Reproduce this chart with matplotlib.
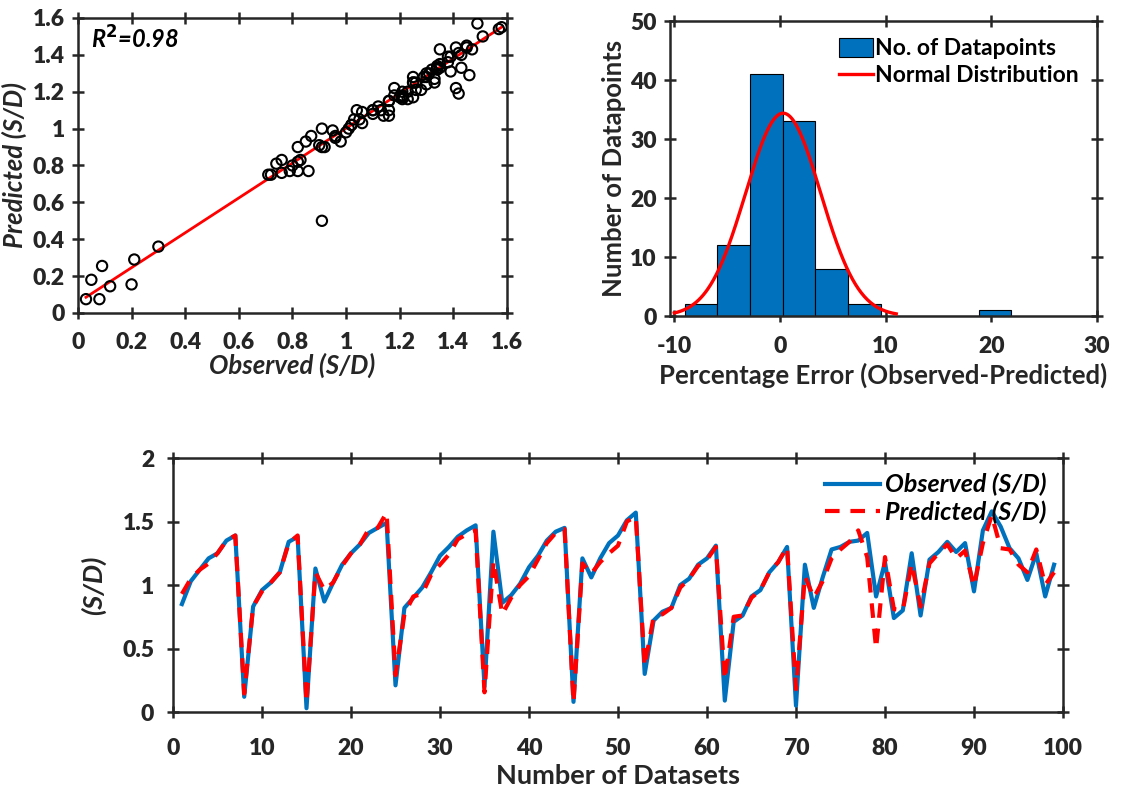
import numpy as np
import matplotlib
matplotlib.use("Agg")
from matplotlib import pyplot as plt

plt.rcParams['font.family'] = ['Lato', 'DejaVu Sans']
plt.rcParams['font.weight'] = 'bold'
plt.rcParams['axes.labelweight'] = 'bold'

# observed / predicted S/D for the 99 datasets
observed = [0.85, 1.03, 1.12, 1.21, 1.25, 1.35, 1.39, 0.12, 0.83, 0.96,
            1.02, 1.10, 1.34, 1.38, 0.03, 1.13, 0.87, 1.02, 1.16, 1.25,
            1.32, 1.41, 1.45, 1.49, 0.21, 0.82, 0.90, 0.98, 1.10, 1.23,
            1.30, 1.38, 1.43, 1.47, 0.20, 1.42, 0.86, 0.92, 1.01, 1.14,
            1.23, 1.35, 1.42, 1.45, 0.08, 1.21, 1.06, 1.21, 1.33, 1.39,
            1.51, 1.57, 0.30, 0.72, 0.79, 0.82, 1.00, 1.05, 1.16, 1.21,
            1.31, 0.09, 0.71, 0.76, 0.91, 0.96, 1.10, 1.18, 1.30, 0.05,
            1.16, 0.82, 1.06, 1.28, 1.30, 1.34, 1.35, 1.41, 0.91, 1.18,
            0.74, 0.80, 1.25, 0.76, 1.20, 1.26, 1.34, 1.26, 1.33, 0.95,
            1.43, 1.58, 1.46, 1.29, 1.21, 1.04, 1.25, 0.91, 1.16]
predicted = [0.93, 1.05, 1.12, 1.17, 1.25, 1.35, 1.39, 0.145, 0.83, 0.95,
             1.02, 1.10, 1.33, 1.39, 0.075, 1.10, 0.96, 1.02, 1.15, 1.25,
             1.32, 1.44, 1.45, 1.57, 0.29, 0.77, 0.91, 0.93, 1.08, 1.16,
             1.24, 1.36, 1.40, 1.43, 0.155, 1.19, 0.77, 0.90, 1.00, 1.07,
             1.20, 1.33, 1.41, 1.44, 0.075, 1.17, 1.09, 1.18, 1.25, 1.31,
             1.50, 1.54, 0.36, 0.75, 0.77, 0.82, 0.98, 1.05, 1.15, 1.20,
             1.30, 0.255, 0.75, 0.76, 0.90, 0.96, 1.10, 1.18, 1.30, 0.18,
             1.07, 0.90, 1.03, 1.21, 1.28, 1.34, 1.43, 1.22, 0.50, 1.22,
             0.81, 0.80, 1.17, 0.83, 1.17, 1.25, 1.32, 1.21, 1.27, 0.99,
             1.33, 1.55, 1.29, 1.28, 1.16, 1.10, 1.28, 1.00, 1.10]
datasets = np.arange(1, len(observed) + 1)

# fitted line in the scatter
fit_x = [0.03, 1.58]
fit_slope = 0.945
fit_intercept = 0.057
r2_text = "R$^\\mathbf{2}$=0.98"

# error histogram
bin_start = -9.02
bin_width = 3.09
bin_counts = [2, 12, 41, 33, 8, 2, 0, 0, 0, 1]
norm_mu = 0.3
norm_sigma = 3.55
norm_range = (-10, 11)

BLUE = "#0072BD"
SPINE = "#262626"
TICK_FS = 16.5
LABEL_FS = 18.5


def fmt(v):
    return "%g" % round(v, 2)


def style_axes(ax, xticks, yticks, xpad=10, ypad=5):
    for s in ax.spines.values():
        s.set_linewidth(1.8)
        s.set_color(SPINE)
    ax.set_xticks(xticks, [fmt(v) for v in xticks], fontweight='heavy', fontsize=TICK_FS)
    ax.set_yticks(yticks, [fmt(v) for v in yticks], fontweight='heavy', fontsize=TICK_FS)
    ax.tick_params(direction='inout', length=9, width=1.8, color=SPINE,
                   top=True, right=True, labelcolor=SPINE)
    ax.tick_params(axis='x', pad=xpad)
    ax.tick_params(axis='y', pad=ypad)


fig = plt.figure(figsize=(11.33, 7.96), dpi=100)

# --- scatter observed vs predicted
ax1 = fig.add_axes([0.0688, 0.6068, 0.3786, 0.3706])
ax1.scatter(observed, predicted, s=55, facecolors='none', edgecolors='black',
            linewidths=1.5, zorder=3)
fx = np.array(fit_x)
ax1.plot(fx, fit_slope * fx + fit_intercept, color='red', lw=2, zorder=2)
ax1.set_xlim(0, 1.6)
ax1.set_ylim(0, 1.6)
ticks = np.arange(0, 1.61, 0.2)
style_axes(ax1, ticks, ticks, xpad=9)
ax1.set_xlabel("Observed (S/D)", fontsize=LABEL_FS, style='italic', color=SPINE, labelpad=0)
ax1.set_ylabel("Predicted (S/D)", fontsize=LABEL_FS, style='italic', color=SPINE, labelpad=4)
ax1.text(0.03, 0.93, r2_text, transform=ax1.transAxes, fontsize=17,
         style='italic', weight='bold', va='center')

# --- histogram of percentage error
ax2 = fig.add_axes([0.5914, 0.603, 0.3769, 0.3706])
lefts = bin_start + bin_width * np.arange(len(bin_counts))
bars = ax2.bar(lefts, bin_counts, width=bin_width, align='edge', color=BLUE,
               edgecolor='black', linewidth=0.8, zorder=2)
xn = np.linspace(norm_range[0], norm_range[1], 300)
scale = sum(bin_counts) * bin_width / (norm_sigma * np.sqrt(2 * np.pi))
curve, = ax2.plot(xn, scale * np.exp(-0.5 * ((xn - norm_mu) / norm_sigma) ** 2),
                  color='red', lw=2.4, zorder=3)
ax2.set_xlim(-10.4, 30)
ax2.set_ylim(0, 50)
style_axes(ax2, np.arange(-10, 31, 10), np.arange(0, 51, 10), xpad=10)
ax2.set_xlabel("Percentage Error (Observed-Predicted)", fontsize=LABEL_FS, color=SPINE, labelpad=4)
ax2.set_ylabel("Number of Datapoints", fontsize=LABEL_FS, color=SPINE, labelpad=3)
ax2.legend([bars, curve], ["No. of Datapoints", "Normal Distribution"],
           loc='upper right', frameon=False, fontsize=16.5, handlelength=1.5,
           handleheight=0.9, handletextpad=0.1, borderaxespad=0.2, labelspacing=0.25,
           bbox_to_anchor=(0.99, 0.99))

# --- observed / predicted series
ax3 = fig.add_axes([0.1527, 0.1055, 0.7855, 0.3191])
ax3.plot(datasets, observed, color=BLUE, lw=3, label="Observed (S/D)", zorder=2)
ax3.plot(datasets, predicted, color='red', lw=3, dashes=(3.5, 2.6),
         label="Predicted (S/D)", zorder=3)
ax3.set_xlim(0, 100)
ax3.set_ylim(0, 2)
style_axes(ax3, np.arange(0, 101, 10), np.arange(0, 2.01, 0.5), xpad=14, ypad=9)
ax3.set_xlabel("Number of Datasets", fontsize=19.5, color=SPINE, labelpad=4)
ax3.set_ylabel("(S/D)", fontsize=19.5, style='italic', color=SPINE, labelpad=12)
ax3.legend(loc='upper right', frameon=False, handlelength=2.2,
           handletextpad=0.2, borderaxespad=0.1, labelspacing=0.15,
           bbox_to_anchor=(0.995, 0.99),
           prop={'size': 18, 'style': 'italic', 'weight': 'bold'})

fig.savefig("out.png", dpi=100)
